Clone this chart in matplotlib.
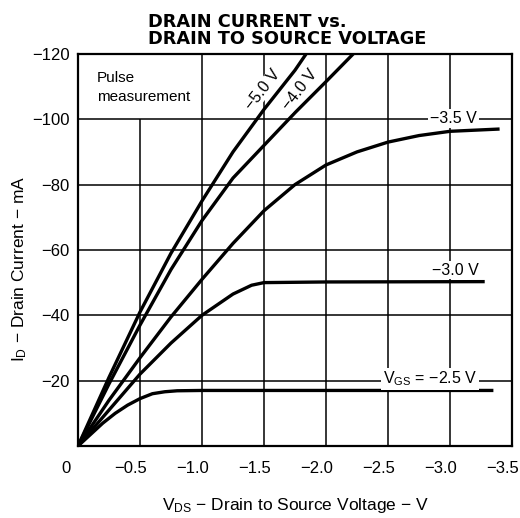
import matplotlib
matplotlib.use("Agg")
import matplotlib.pyplot as plt
from matplotlib.transforms import ScaledTranslation

plt.rcParams['font.family'] = ['Liberation Sans', 'DejaVu Sans']
plt.rcParams['mathtext.default'] = 'regular'

# Data (VDS in V, ID in mA)
vds_25 = [0, -0.1, -0.2, -0.3, -0.4, -0.5, -0.6, -0.7, -0.8, -1.0, -2.0, -3.35]
id_25 = [0, -3.5, -7, -10, -12.5, -14.5, -16, -16.6, -16.9, -17, -17, -17]

vds_30 = [0, -0.25, -0.5, -0.75, -1.0, -1.25, -1.4, -1.5, -2.0, -3.28]
id_30 = [0, -11, -22, -31.5, -40, -46.5, -49.2, -50, -50.2, -50.3]

vds_35 = [0, -0.25, -0.5, -0.75, -1.0, -1.25, -1.5, -1.75, -2.0, -2.25, -2.5, -2.75, -3.0, -3.4]
id_35 = [0, -14, -27, -39.5, -51, -62, -72, -80, -86, -90, -93, -95, -96.3, -97]

vds_40 = [0, -0.25, -0.5, -0.75, -1.0, -1.25, -1.5, -1.75, -2.0, -2.22]
id_40 = [0, -19, -37, -54, -69, -82, -92, -102, -111.5, -120]

vds_50 = [0, -0.25, -0.5, -0.75, -1.0, -1.25, -1.5, -1.75, -1.84]
id_50 = [0, -21, -41, -59, -75, -90, -103, -115, -120]

x_ticks = [0, -0.5, -1.0, -1.5, -2.0, -2.5, -3.0, -3.5]
x_labels = ['0', '−0.5', '−1.0', '−1.5', '−2.0', '−2.5', '−3.0', '−3.5']
y_ticks = [-20, -40, -60, -80, -100, -120]
y_labels = ['−20', '−40', '−60', '−80', '−100', '−120']

fig = plt.figure(figsize=(5.2, 5.18), dpi=100)
ax = fig.add_axes([0.15, 0.139, 0.8346, 0.757])

ax.set_xlim(0, -3.5)
ax.set_ylim(0, -120)

for xv in x_ticks[1:-1]:
    top = -100 if xv == -0.5 else -120
    ax.vlines(xv, 0, top, color='black', lw=1.1, zorder=1)
for yv in y_ticks[:-1]:
    ax.axhline(yv, color='black', lw=1.1, zorder=1)

lw = 2.4
for xs, ys in [(vds_25, id_25), (vds_30, id_30), (vds_35, id_35), (vds_40, id_40), (vds_50, id_50)]:
    ax.plot(xs, ys, color='black', lw=lw, solid_capstyle='butt', zorder=3, clip_on=True)

ax.set_xticks(x_ticks)
ax.set_xticklabels(x_labels)
ax.set_yticks(y_ticks)
ax.set_yticklabels(y_labels)
ax.tick_params(axis='both', length=0, labelsize=12)
ax.tick_params(axis='x', pad=11)
ax.tick_params(axis='y', pad=6)
shift = ScaledTranslation(-9 / 100, 0, fig.dpi_scale_trans)
for i, lab in enumerate(ax.get_xticklabels()):
    if i == 0:
        lab.set_transform(lab.get_transform() + ScaledTranslation(-12 / 100, 0, fig.dpi_scale_trans))
    else:
        lab.set_transform(lab.get_transform() + shift)
for sp in ax.spines.values():
    sp.set_linewidth(1.6)

ax.text(0.043, 0.957, 'Pulse\nmeasurement', transform=ax.transAxes, fontsize=11,
        va='top', ha='left', linespacing=1.45, zorder=4)

ax.text(-1.49, -109, '−5.0 V', rotation=52, fontsize=11.5, ha='center', va='center',
        bbox=dict(facecolor='white', edgecolor='none', pad=0.3), zorder=4)
ax.text(-1.79, -109, '−4.0 V', rotation=52, fontsize=11.5, ha='center', va='center',
        bbox=dict(facecolor='white', edgecolor='none', pad=0.3), zorder=4)
ax.text(-3.03, -100.2, '−3.5 V', fontsize=11.5, ha='center', va='center',
        bbox=dict(facecolor='white', edgecolor='none', pad=1.5), zorder=4)
ax.text(-3.04, -53.8, '−3.0 V', fontsize=11.5, ha='center', va='center',
        bbox=dict(facecolor='white', edgecolor='none', pad=1.0), zorder=4)
ax.text(-2.84, -20.5, 'V$_{GS}$ = −2.5 V', fontsize=11.5, ha='center', va='center',
        bbox=dict(facecolor='white', edgecolor='none', pad=1.5), zorder=4)

ax.set_xlabel('V$_{DS}$ − Drain to Source Voltage − V', fontsize=12.5, labelpad=14)
ax.set_ylabel('I$_{D}$ − Drain Current − mA', fontsize=12.5)
ax.yaxis.set_label_coords(-0.113, 0.452)

fig.text(148 / 520, 1 - 13 / 518, 'DRAIN CURRENT vs.\nDRAIN TO SOURCE VOLTAGE', fontsize=12.8,
         family='DejaVu Sans', fontweight='bold', ha='left', va='top', linespacing=0.95)

fig.savefig('out.png', dpi=100)
